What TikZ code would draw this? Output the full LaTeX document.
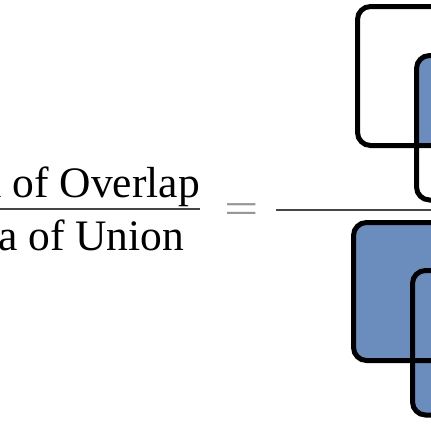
\documentclass[tikz,border=0pt]{standalone}
\usepackage{fontspec}
\setmainfont{Liberation Serif}
\definecolor{boxblue}{RGB}{106,141,190}
\definecolor{bargray}{RGB}{70,70,70}
\definecolor{eqgray}{RGB}{150,150,150}
\tikzset{
  lbl/.style={inner sep=0pt,font=\fontsize{43.5}{50}\selectfont,text=black},
  outline/.style={line width=5pt,rounded corners=13pt},
  fracbar/.style={line width=2pt,draw=bargray}
}
\begin{document}
\begin{tikzpicture}[x=1pt,y=-1pt]
  \clip (0,0) rectangle (431,431);
  % left side of the equation
  \node[lbl,anchor=base east] (num) at (200,197) {Area of Overlap};
  \node[lbl,anchor=base] (den) at (num.base |- 0,250) {Area of Union};
  \coordinate (lbar) at (0,209);
  \draw[fracbar] (num.west |- lbar) -- (num.east |- lbar);
  \node[lbl,text=eqgray,xscale=1.4,anchor=base] (eq) at (241.5,223) {=};
  \draw[fracbar] (276,209.5) -- (520,209.5);
  % overlap: only the shared part is filled
  \begin{scope}
    \clip[rounded corners=13pt] (357.5,6.5) rectangle (540,145.5);
    \fill[boxblue,rounded corners=13pt] (416.5,55.5) rectangle (560,200);
  \end{scope}
  \draw[outline] (357.5,6.5) rectangle (540,145.5);
  \draw[outline] (416.5,55.5) rectangle (560,200);
  % union: both boxes filled
  \fill[boxblue,rounded corners=13pt] (353.5,222.5) rectangle (540,360.5);
  \fill[boxblue,rounded corners=13pt] (412.5,270.5) rectangle (560,415);
  \draw[outline] (353.5,222.5) rectangle (540,360.5);
  \draw[outline] (412.5,270.5) rectangle (560,415);
\end{tikzpicture}
\end{document}
